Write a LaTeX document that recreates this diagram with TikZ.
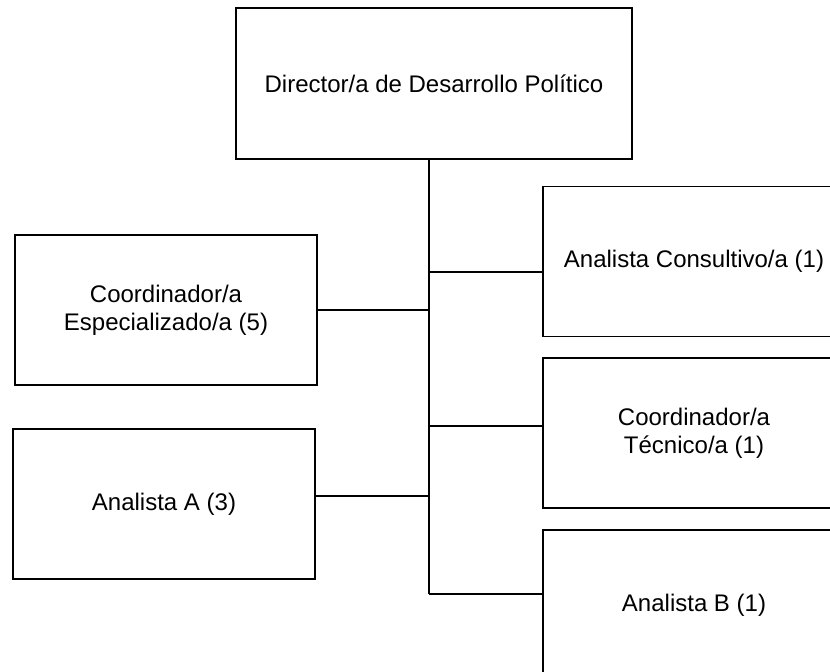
\documentclass[tikz,border=0pt]{standalone}
\usepackage{fontspec}
\setmainfont{Liberation Sans}
\usepackage{tikz}
\usetikzlibrary{positioning}
\tikzstyle{post}=[rectangle, draw=black, line width=0.9pt, text centered, align=center,
        minimum width=151pt, minimum height=75pt, font=\fontsize{12}{14}\selectfont]
\tikzstyle{link}=[draw=black, line width=0.6pt]

\begin{document}
\begin{tikzpicture}[x=0.5pt, y=-0.5pt, node distance=10pt]
        \useasboundingbox (0,0) rectangle (830,671);
        \clip (0,0) rectangle (830,671);
        \node (Director) [post, minimum width=198pt, minimum height=75.5pt] at (434,83.5)
        {Director/a de Desarrollo Político};
        \node (Especializado) [post] at (166,310)
        {Coordinador/a\\Especializado/a (5)};
        \node (AnalistaA) [post, below=21pt of Especializado, xshift=-1pt]
        {Analista A (3)};
        \node (Consultivo) [post] at (694,261.5)
        {Analista Consultivo/a (1)};
        \node (Tecnico) [post, below=of Consultivo]
        {Coordinador/a\\Técnico/a (1)};
        \node (AnalistaB) [post, below=of Tecnico]
        {Analista B (1)};
        % tronco y ramas
        \coordinate (Fin) at (429,594);
        \coordinate (RamaC) at (429,272);
        \coordinate (RamaE) at (429,310);
        \coordinate (RamaT) at (429,426);
        \coordinate (RamaA) at (429,496);
        \draw[link] (Fin |- Director.south) -- (Fin);
        \draw[link] (RamaC) -- (RamaC -| Consultivo.west);
        \draw[link] (RamaE) -- (RamaE -| Especializado.east);
        \draw[link] (RamaT) -- (RamaT -| Tecnico.west);
        \draw[link] (RamaA) -- (RamaA -| AnalistaA.east);
        \draw[link] (Fin) -- (Fin -| AnalistaB.west);
\end{tikzpicture}
\end{document}
